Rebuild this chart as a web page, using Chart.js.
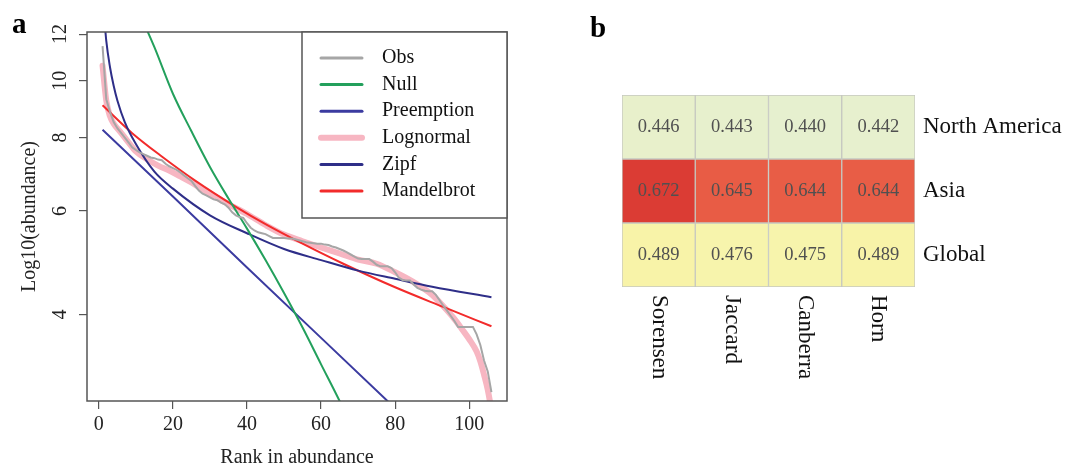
<!DOCTYPE html>
<html>
<head>
<meta charset="utf-8">
<script src="https://cdn.jsdelivr.net/npm/chart.js@4.4.1/dist/chart.umd.min.js"></script>
<style>
  html, body { margin: 0; padding: 0; background: #fff; }
  #wrap { position: relative; width: 1065px; height: 468px; }
  #rad_chart { position: absolute; left: 0; top: 0; }
  #dist_chart { position: absolute; left: 530px; top: 0; }
</style>
</head>
<body>
<div id="wrap">
  <canvas id="rad_chart" width="530" height="468"></canvas>
  <canvas id="dist_chart" width="535" height="468"></canvas>
</div>
<script>
// ---- panel a : rank abundance ----
const obsVals = [11.45, 9.3, 8.85, 8.5, 8.3, 8.15, 8.0, 7.85, 7.7, 7.62,
  7.55, 7.5, 7.45, 7.4, 7.38, 7.34, 7.32, 7.22, 7.15, 7.1,
  7.05, 6.98, 6.9, 6.82, 6.75, 6.62, 6.5, 6.42, 6.38, 6.33,
  6.28, 6.26, 6.2, 6.16, 6.08, 5.97, 5.9, 5.86, 5.84, 5.72,
  5.62, 5.56, 5.52, 5.5, 5.48, 5.44, 5.4, 5.4, 5.4, 5.4,
  5.39, 5.39, 5.37, 5.35, 5.33, 5.31, 5.3, 5.29, 5.28, 5.28,
  5.26, 5.25, 5.22, 5.2, 5.17, 5.14, 5.1, 5.06, 5.02, 4.98,
  4.97, 4.97, 4.97, 4.92, 4.86, 4.83, 4.83, 4.83, 4.8, 4.72,
  4.62, 4.58, 4.57, 4.57, 4.5, 4.44, 4.41, 4.39, 4.38, 4.38,
  4.32, 4.23, 4.14, 4.06, 3.98, 3.9, 3.81, 3.81, 3.81, 3.81,
  3.81, 3.7, 3.55, 3.34, 3.2, 2.95];
const obsRank = obsVals.map((v, i) => i + 1);

const nullRank = [12, 15, 20, 25, 30, 35, 40, 45, 50, 55, 60, 65, 70];
const nullVals = [12.6, 11.4, 9.5, 8.2, 7.13, 6.3, 5.6, 4.95, 4.35, 3.8, 3.29, 2.85, 2.44];

const preRank = [1, 20, 40, 60, 80, 106];
const preVals = [8.25, 6.35, 4.81, 3.65, 2.77, 1.93];

const lnRank = [1, 2, 3, 4, 6, 8, 10, 13, 16, 19, 22, 25, 28, 31, 34, 37, 40, 45, 50, 55,
  60, 65, 70, 75, 80, 85, 90, 93, 96, 98, 100, 102, 103, 104, 105, 106];
const lnVals = [10.6, 9.25, 8.7, 8.45, 8.15, 7.85, 7.58, 7.35, 7.17, 7.03, 6.87, 6.71, 6.53, 6.37, 6.21, 6.07, 5.93, 5.68, 5.47, 5.33,
  5.2, 5.08, 4.96, 4.88, 4.72, 4.54, 4.32, 4.13, 3.93, 3.78, 3.63, 3.46, 3.33, 3.16, 2.98, 2.75];

const zipfRank = [1, 2, 3, 4, 5, 7, 10, 15, 20, 30, 40, 50, 60, 70, 80, 90, 106];
const zipfVals = [13.9, 11.7, 10.55, 9.8, 9.25, 8.5, 7.8, 7.0, 6.55, 5.9, 5.5, 5.17, 4.95, 4.75, 4.6, 4.46, 4.28];

const mandRank = [1, 9, 17, 26, 37, 45, 55, 66, 80, 93, 106];
const mandVals = [9.08, 8.14, 7.43, 6.76, 6.10, 5.70, 5.28, 4.88, 4.45, 4.12, 3.82];

const xTicks = [0, 20, 40, 60, 80, 100];
const yTicks = [4, 6, 8, 10, 12];

// ---- panel b : heatmap ----
const metrics = ['Sorensen', 'Jaccard', 'Canberra', 'Horn'];
const regions = ['North America', 'Asia', 'Global'];
const naVals = [0.446, 0.443, 0.440, 0.442];
const asiaVals = [0.672, 0.645, 0.644, 0.644];
const globalVals = [0.489, 0.476, 0.475, 0.489];

const SERIF = '"Liberation Serif", "Times New Roman", serif';
Chart.defaults.font.family = SERIF;
Chart.defaults.animation = false;

const pts = (rk, vals) => rk.map((r, i) => ({x: r, y: vals[i]}));

const rad_chart = document.getElementById('rad_chart');

const radDecor = {
  id: 'radDecor',
  afterDatasetsDraw(chart) {
    const {ctx, chartArea: a, scales: {y}} = chart;
    ctx.save();
    ctx.strokeStyle = '#555';
    ctx.lineWidth = 1.5;
    ctx.strokeRect(a.left, a.top, a.right - a.left, a.bottom - a.top);

    // rotated y tick labels
    ctx.fillStyle = '#222';
    ctx.font = '20px ' + SERIF;
    ctx.textAlign = 'center';
    ctx.textBaseline = 'middle';
    yTicks.forEach(v => {
      ctx.save();
      ctx.translate(61, y.getPixelForValue(v));
      ctx.rotate(-Math.PI / 2);
      ctx.fillText(String(v), 0, 0);
      ctx.restore();
    });

    // legend
    const lx = 302, ly = a.top, lw = a.right - 302, lh = 186;
    ctx.fillStyle = '#fff';
    ctx.fillRect(lx, ly, lw, lh);
    ctx.strokeStyle = '#555';
    ctx.lineWidth = 1.5;
    ctx.strokeRect(lx, ly, lw, lh);
    chart.data.datasets.forEach((ds, i) => {
      const yy = ly + 26 + i * 26.6;
      ctx.beginPath();
      ctx.strokeStyle = ds.borderColor;
      ctx.lineWidth = ds.borderWidth > 4 ? ds.borderWidth : 3;
      ctx.lineCap = 'round';
      ctx.moveTo(321, yy);
      ctx.lineTo(362, yy);
      ctx.stroke();
      ctx.fillStyle = '#111';
      ctx.textAlign = 'left';
      ctx.fillText(ds.label, 382, yy);
    });

    // panel letter
    ctx.font = 'bold 29px ' + SERIF;
    ctx.fillStyle = '#000';
    ctx.textBaseline = 'alphabetic';
    ctx.fillText('a', 12, 33);
    ctx.restore();
  }
};

new Chart(rad_chart, {
  type: 'line',
  data: {
    datasets: [
      {label: 'Obs', data: pts(obsRank, obsVals), borderColor: '#a6a6a6', borderWidth: 2, order: 1},
      {label: 'Null', data: pts(nullRank, nullVals), borderColor: '#23a05c', borderWidth: 2, cubicInterpolationMode: 'monotone', order: 2},
      {label: 'Preemption', data: pts(preRank, preVals), borderColor: '#3b3ba0', borderWidth: 2, order: 3},
      {label: 'Lognormal', data: pts(lnRank, lnVals), borderColor: '#f7b6c2', borderWidth: 6, borderCapStyle: 'round', cubicInterpolationMode: 'monotone', order: 10},
      {label: 'Zipf', data: pts(zipfRank, zipfVals), borderColor: '#2e2e88', borderWidth: 2, cubicInterpolationMode: 'monotone', order: 4},
      {label: 'Mandelbrot', data: pts(mandRank, mandVals), borderColor: '#f22b2b', borderWidth: 2, cubicInterpolationMode: 'monotone', order: 5}
    ]
  },
  options: {
    responsive: false,
    devicePixelRatio: 1,
    events: [],
    clip: 0,
    elements: {point: {radius: 0}, line: {tension: 0}},
    layout: {padding: {top: 32, right: 23, left: 0, bottom: 0}},
    plugins: {legend: {display: false}, tooltip: {enabled: false}},
    scales: {
      x: {
        type: 'linear',
        min: -3.2,
        max: 110.2,
        afterBuildTicks: s => { s.ticks = xTicks.map(v => ({value: v})); },
        afterFit: s => { s.height = 67; },
        border: {display: false},
        grid: {drawOnChartArea: false, drawTicks: true, tickLength: 8, color: '#555', lineWidth: 1.2},
        ticks: {color: '#222', font: {size: 20}, padding: 4, maxRotation: 0, autoSkip: false},
        title: {display: true, text: 'Rank in abundance', color: '#222', font: {size: 20, lineHeight: 1}, padding: {top: 0, bottom: 0}}
      },
      y: {
        type: 'logarithmic',
        min: 2.85,
        max: 12.1,
        afterBuildTicks: s => { s.ticks = yTicks.map(v => ({value: v})); },
        afterFit: s => { s.width = 87; },
        border: {display: false},
        grid: {drawOnChartArea: false, drawTicks: true, tickLength: 8, color: '#555', lineWidth: 1.2},
        ticks: {display: false},
        title: {display: true, text: 'Log10(abundance)', color: '#222', font: {size: 20, lineHeight: 1.2}, padding: {top: 18, bottom: 0}}
      }
    }
  },
  plugins: [radDecor]
});

// heatmap colour ramp
const heatStops = [[0.44, [230, 240, 207]], [0.45, [233, 240, 201]], [0.475, [247, 244, 172]],
  [0.49, [248, 243, 168]], [0.645, [232, 92, 69]], [0.675, [217, 56, 50]]];
function heatColor(v) {
  let i = 0;
  while (i < heatStops.length - 2 && v > heatStops[i + 1][0]) i++;
  const [v0, c0] = heatStops[i], [v1, c1] = heatStops[i + 1];
  const t = Math.max(0, Math.min(1, (v - v0) / (v1 - v0)));
  const c = c0.map((k, j) => Math.round(k + (c1[j] - k) * t));
  return 'rgb(' + c.join(',') + ')';
}

const dist_chart = document.getElementById('dist_chart');
const rowVals = [naVals, asiaVals, globalVals];

const heatDecor = {
  id: 'heatDecor',
  afterDatasetsDraw(chart) {
    const {ctx, scales: {x}} = chart;
    ctx.save();
    ctx.font = '18.5px ' + SERIF;
    ctx.fillStyle = '#505050';
    ctx.textAlign = 'center';
    ctx.textBaseline = 'middle';
    chart.data.datasets.forEach((ds, di) => {
      chart.getDatasetMeta(di).data.forEach((bar, i) => {
        ctx.fillText(rowVals[di][i].toFixed(3), bar.x, (bar.y + bar.base) / 2);
      });
    });
    // column labels, rotated clockwise
    ctx.font = '23px ' + SERIF;
    ctx.fillStyle = '#111';
    ctx.textAlign = 'left';
    metrics.forEach((m, i) => {
      ctx.save();
      ctx.translate(x.getPixelForValue(i), 295);
      ctx.rotate(Math.PI / 2);
      ctx.fillText(m, 0, 0);
      ctx.restore();
    });
    ctx.font = 'bold 29px ' + SERIF;
    ctx.fillStyle = '#000';
    ctx.textBaseline = 'alphabetic';
    ctx.fillText('b', 60, 37);
    ctx.restore();
  }
};

new Chart(dist_chart, {
  type: 'bar',
  data: {
    labels: metrics,
    datasets: regions.map((r, ri) => ({
      label: r,
      data: rowVals[ri].map(() => 1),
      backgroundColor: rowVals[ri].map(heatColor),
      borderColor: '#c6c8c0',
      borderWidth: 1,
      borderSkipped: false,
      barPercentage: 1,
      categoryPercentage: 1
    }))
  },
  options: {
    responsive: false,
    devicePixelRatio: 1,
    events: [],
    layout: {padding: {top: 95, left: 92, right: 0, bottom: 181}},
    plugins: {legend: {display: false}, tooltip: {enabled: false}},
    scales: {
      x: {display: false, stacked: true},
      y: {
        type: 'linear',
        position: 'right',
        stacked: true,
        reverse: true,
        min: 0,
        max: 3,
        afterBuildTicks: s => { s.ticks = [0.5, 1.5, 2.5].map(v => ({value: v})); },
        afterFit: s => { s.width = 150; },
        grid: {display: false, drawTicks: false},
        border: {display: false},
        ticks: {color: '#111', font: {size: 23}, padding: 8, callback: (v, i) => regions[i]}
      }
    }
  },
  plugins: [heatDecor]
});
</script>
</body>
</html>
